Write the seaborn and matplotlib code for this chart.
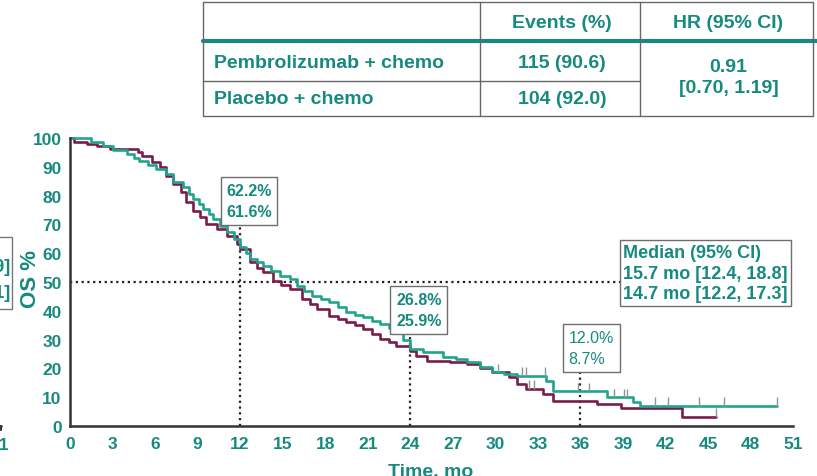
import numpy as np
import pandas as pd
import matplotlib
matplotlib.use("Agg")
import matplotlib.pyplot as plt
from matplotlib.lines import Line2D
from matplotlib.patches import Rectangle
import seaborn as sns

# ---------------- data ----------------
arm_names = ["Pembrolizumab + chemo", "Placebo + chemo"]

pembro_t = [0, 1.5, 2.3, 3.0, 4.0, 4.5, 4.9, 5.5, 6.1, 6.8, 7.3, 8.0, 8.4, 8.7, 9.1, 9.4, 9.8,
            10.1, 10.6, 11.1, 11.6, 12.0, 12.4, 12.7, 13.2, 13.6, 14.2, 14.8, 15.5, 16.0, 16.5,
            17.1, 17.7, 18.3, 18.9, 19.5, 20.1, 20.7, 21.3, 21.9, 22.5, 23.0, 23.5, 24.0, 24.9,
            26.3, 27.2, 28.0, 28.9, 29.8, 30.6, 31.5, 33.6, 34.1, 37.9, 39.7, 40.2, 49.9]
pembro_s = [100, 98.5, 97.2, 96.0, 94.4, 93.2, 92.0, 90.5, 89.2, 87.5, 84.7, 83.0, 80.5, 78.8,
            77.0, 75.3, 73.5, 71.9, 69.5, 67.4, 65.0, 62.2, 60.0, 58.0, 56.8, 55.6, 53.8, 52.1,
            51.0, 48.6, 47.0, 45.1, 44.0, 43.0, 41.2, 39.6, 38.7, 37.8, 36.6, 35.4, 34.0, 32.6,
            30.0, 26.8, 25.6, 24.0, 23.2, 22.2, 20.5, 18.7, 18.0, 17.4, 15.6, 12.0, 10.0, 8.3,
            6.9, 6.9]

placebo_t = [0, 0.3, 1.2, 1.9, 2.8, 4.8, 5.1, 5.8, 6.35, 6.8, 7.3, 7.8, 8.2, 8.7, 9.2, 9.6,
             10.4, 11.1, 11.8, 12.0, 12.7, 13.2, 13.6, 14.3, 14.9, 15.5, 16.4, 16.9, 17.4, 18.3,
             18.9, 19.5, 20.1, 20.7, 21.3, 21.9, 22.5, 23.0, 24.0, 24.4, 25.2, 26.8, 28.0, 28.9,
             29.8, 31.0, 31.5, 32.2, 33.4, 34.1, 37.2, 38.9, 43.2, 45.6]
placebo_s = [100, 98.6, 97.9, 97.2, 96.2, 95.0, 93.8, 91.7, 89.9, 86.8, 84.0, 81.2, 77.8, 74.7,
             72.6, 70.1, 68.4, 66.0, 63.2, 61.6, 56.9, 55.0, 53.5, 50.3, 49.0, 47.6, 44.1, 42.3,
             40.6, 38.2, 37.1, 36.1, 34.9, 33.7, 32.0, 30.2, 29.0, 27.8, 25.9, 24.3, 22.6, 22.2,
             21.5, 20.1, 18.7, 17.0, 14.6, 12.8, 11.1, 8.7, 7.6, 6.3, 3.1, 3.1]

pembro_censor = [30.2, 31.9, 32.2, 33.5, 35.8, 36.6, 38.4, 39.1, 39.3, 41.3, 42.2, 44.4, 46.1, 49.9]
placebo_censor = [32.4, 32.7, 45.6]

landmark_months = [12, 24, 36]
landmark_labels = ["62.2%\n61.6%", "26.8%\n25.9%", "12.0%\n8.7%"]
median_text = "Median (95% CI)\n15.7 mo [12.4, 18.8]\n14.7 mo [12.2, 17.3]"

x_ticks = list(range(0, 52, 3))
y_ticks = list(range(0, 101, 10))

table_header = ["Events (%)", "HR (95% CI)"]
table_rows = ["Pembrolizumab + chemo", "Placebo + chemo"]
table_events = ["115 (90.6)", "104 (92.0)"]
table_hr = "0.91\n[0.70, 1.19]"

# ---------------- style ----------------
TEAL_TXT = "#168a7e"
GREEN = "#1fa58b"
MAROON = "#7a1c4c"
SPINE = "#333333"
W, H = 817, 477

sns.set_style("white")
plt.rcParams["font.family"] = ["Liberation Sans", "DejaVu Sans"]

fig = plt.figure(figsize=(W / 100, H / 100), dpi=100)
ax = fig.add_axes([70 / W, 1 - 427 / H, (793 - 70) / W, (427 - 139) / H])

def fx(px):
    return px / W

def fy(py):
    return 1 - py / H

df = pd.concat([
    pd.DataFrame({"time": placebo_t, "surv": placebo_s, "arm": arm_names[1]}),
    pd.DataFrame({"time": pembro_t, "surv": pembro_s, "arm": arm_names[0]}),
])
sns.lineplot(data=df, x="time", y="surv", hue="arm",
             hue_order=[arm_names[1], arm_names[0]],
             palette={arm_names[0]: GREEN, arm_names[1]: MAROON},
             drawstyle="steps-post", estimator=None, legend=False,
             linewidth=1.9, ax=ax)
for ln in ax.lines:
    ln.set_clip_on(False)

# censor ticks
def step_val(ts, ss, c):
    i = np.searchsorted(np.asarray(ts), c, side="right") - 1
    return np.asarray(ss)[i]

for ts, ss, cs in [(placebo_t, placebo_s, placebo_censor), (pembro_t, pembro_s, pembro_censor)]:
    cs = np.asarray(cs)
    ys = np.array([step_val(ts, ss, c) for c in cs])
    ax.vlines(cs, ys, ys + 3.0, color="#8a9795", lw=1.0, zorder=3)

ax.set_xlim(0, 51)
ax.set_ylim(0, 100)
ax.set_xticks(x_ticks)
ax.set_yticks(y_ticks)
ax.set_xlabel("")
ax.set_ylabel("")
for s in ["top", "right"]:
    ax.spines[s].set_visible(False)
for s in ["left", "bottom"]:
    ax.spines[s].set_color(SPINE)
    ax.spines[s].set_linewidth(1.8)
ax.tick_params(axis="both", direction="out", length=4, width=1.5, color=SPINE,
               labelsize=12.5, labelcolor=TEAL_TXT, pad=3)
for lab in ax.get_xticklabels() + ax.get_yticklabels():
    lab.set_fontweight("bold")
ax.tick_params(axis="y", pad=2)

# dotted reference lines
dot = dict(color="#222222", lw=1.6, linestyle=(0, (1, 1.6)), zorder=1)
ax.plot([0, 38.8], [50, 50], **dot)
box_bottoms = [69.4, 31.9, 18.8]
for m, b in zip(landmark_months, box_bottoms):
    ax.plot([m, m], [0, b], **dot)

# landmark boxes
box_centers = [(12.62, 78.1, "bold"), (24.6, 40.3, "bold"), (36.78, 27.1, "normal")]
for (cx, cy, wt), lab in zip(box_centers, landmark_labels):
    ax.text(cx, cy, lab, ha="center", va="center", fontsize=11.5, fontweight=wt,
            color=TEAL_TXT, linespacing=1.55, multialignment="left",
            bbox=dict(boxstyle="square,pad=0.35", fc="white", ec="#6e6e6e", lw=1.0), zorder=5)

ax.text(44.8, 53.1, median_text, ha="center", va="center", fontsize=13, fontweight="bold",
        color=TEAL_TXT, linespacing=1.3, multialignment="left",
        bbox=dict(boxstyle="square,pad=0.18", fc="white", ec="#6e6e6e", lw=1.0), zorder=5)

# axis titles
fig.text(fx(31), fy(279), "OS %", rotation=90, ha="center", va="center",
         fontsize=16, fontweight="bold", color=TEAL_TXT)
fig.text(fx(431), fy(464), "Time, mo", ha="center", va="top",
         fontsize=14, fontweight="bold", color=TEAL_TXT)

# remnants of the neighbouring panel at the left edge
fig.add_artist(Rectangle((fx(-100), fy(310)), fx(112), fy(238) - fy(310),
                         transform=fig.transFigure, fill=False, ec="#777777", lw=1.0))
fig.text(fx(10), fy(268), "[12.1, 18.9]", ha="right", va="center", fontsize=13,
         fontweight="bold", color=TEAL_TXT)
fig.text(fx(10), fy(294), "[11.2, 17.1]", ha="right", va="center", fontsize=13,
         fontweight="bold", color=TEAL_TXT)
fig.text(fx(9), fy(445), "51", ha="right", va="center", fontsize=12.5,
         fontweight="bold", color=TEAL_TXT)
fig.add_artist(Line2D([fx(-20), fx(1)], [fy(427), fy(427)], transform=fig.transFigure,
                      color=SPINE, lw=1.8))
fig.add_artist(Line2D([fx(1), fx(1)], [fy(427), fy(431)], transform=fig.transFigure,
                      color=SPINE, lw=1.5))

# ---------------- table ----------------
GRAY = "#666666"
def hline(y, x0, x1, color=GRAY, lw=1.0):
    fig.add_artist(Line2D([fx(x0), fx(x1)], [fy(y), fy(y)], transform=fig.transFigure,
                          color=color, lw=lw))
def vline(x, y0, y1, color=GRAY, lw=1.0):
    fig.add_artist(Line2D([fx(x), fx(x)], [fy(y0), fy(y1)], transform=fig.transFigure,
                          color=color, lw=lw))

T_L, T_R, T_T, T_B = 203, 813, 3, 117
C1, C2 = 480, 640
hline(T_T, T_L, T_R)
hline(T_B, T_L, T_R)
hline(82, T_L, C2)
hline(42, T_L, T_R + 5, color=TEAL_TXT, lw=3.0)
vline(T_L, T_T, T_B)
vline(T_R, T_T, T_B)
vline(C1, T_T, T_B)
vline(C2, T_T, T_B)

tkw = dict(fontsize=14, fontweight="bold", color=TEAL_TXT, va="center")
fig.text(fx((C1 + C2) / 2 + 2), fy(23), table_header[0], ha="center", **tkw)
fig.text(fx((C2 + T_R) / 2 + 2), fy(23), table_header[1], ha="center", **tkw)
for yy, name, ev in zip([63, 100], table_rows, table_events):
    fig.text(fx(214), fy(yy), name, ha="left", **tkw)
    fig.text(fx((C1 + C2) / 2 + 2), fy(yy), ev, ha="center", **tkw)
fig.text(fx((C2 + T_R) / 2 + 2), fy(78), table_hr, ha="center", linespacing=1.3,
         fontsize=14, fontweight="bold", color=TEAL_TXT, va="center")

fig.savefig("out.png", dpi=100)
